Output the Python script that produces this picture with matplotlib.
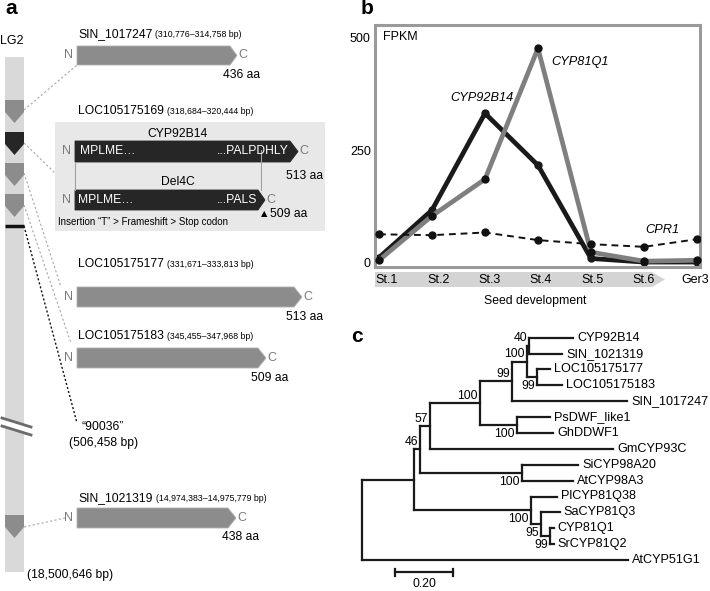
import numpy as np
import matplotlib
matplotlib.use('Agg')
import matplotlib.pyplot as plt
from matplotlib.patches import Polygon, Rectangle

plt.rcParams['font.family'] = ['Liberation Sans', 'DejaVu Sans']

###############################################################################
###------------------------------ Data -----------------------------------###
###############################################################################

# panel a - genes on LG2
gene_names = ['SIN_1017247', 'LOC105175169', 'LOC105175177', 'LOC105175183', 'SIN_1021319']
gene_coords = ['(310,776–314,758 bp)', '(318,684–320,444 bp)', '(331,671–333,813 bp)',
               '(345,455–347,968 bp)', '(14,974,383–14,975,779 bp)']
gene_aa = ['436 aa', '513 aa', '513 aa', '509 aa', '438 aa']
del4c_aa = '509 aa'
marker_name = '“90036”'
marker_pos = '(506,458 bp)'
chrom_name = 'LG2'
chrom_end = '(18,500,646 bp)'

# panel b - expression
stages = ['St.1', 'St.2', 'St.3', 'St.4', 'St.5', 'St.6', 'Ger3']
cyp92b14 = [10, 116, 332, 216, 8, 0, 0]
cyp81q1 = [4, 103, 185, 477, 22, 2, 4]
cpr1 = [62, 60, 66, 49, 40, 34, 51]

# panel c - tree: (bootstrap, branch length, children) or (leaf, branch length)
tree = ('', 0.0, [
    ('', 0.178, [
        ('46', 0.021, [
            ('57', 0.034, [
                ('100', 0.172, [
                    ('99', 0.110, [
                        ('100', 0.051, [
                            ('40', 0.007, [('CYP92B14', 0.151), ('SIN_1021319', 0.113)]),
                            ('99', 0.034, [('LOC105175177', 0.045), ('LOC105175183', 0.086)]),
                        ]),
                        ('SIN_1017247', 0.394),
                    ]),
                    ('100', 0.127, [('PsDWF_like1', 0.113), ('GhDDWF1', 0.123)]),
                ]),
                ('GmCYP93C', 0.628),
            ]),
            ('100', 0.350, [('SiCYP98A20', 0.192), ('AtCYP98A3', 0.175)]),
        ]),
        ('100', 0.401, [
            ('PlCYP81Q38', 0.089),
            ('95', 0.034, [('SaCYP81Q3', 0.065),
                           ('99', 0.031, [('CYP81Q1', 0.014), ('SrCYP81Q2', 0.014)])]),
        ]),
    ]),
    ('AtCYP51G1', 0.913),
])
scale_len = 0.20

###############################################################################
###------------------------------ Figure ---------------------------------###
###############################################################################
fig = plt.figure(figsize=(7.1, 5.91), dpi=100)
ax = fig.add_axes([0, 0, 1, 1])
ax.set_xlim(0, 710)
ax.set_ylim(591, 0)
ax.axis('off')

GRAY = '#8c8c8c'
DARK = '#262626'
NC = '#7a7a7a'

for lab, x, y in [('a', 5, 9), ('b', 361, 9), ('c', 351, 337)]:
    ax.text(x, y, lab, fontsize=15, fontweight='bold', va='center', ha='left')

############## PANEL A ##############
ax.text(12, 41, chrom_name, fontsize=9, ha='center', va='center')
ax.add_patch(Rectangle((5, 57), 19, 515, fc='#d9d9d9', ec='none'))

# chromosome break
ax.add_patch(Polygon([(2, 418), (31, 427), (31, 435), (2, 426)], fc='white', ec='none'))
ax.plot([2, 31], [418, 427], color='#6b6b6b', lw=2)
ax.plot([2, 31], [426, 435], color='#6b6b6b', lw=2)

# markers on chromosome
marker_tops = [100, 132, 163, 194, 515]
marker_cols = [GRAY, DARK, GRAY, GRAY, GRAY]
for top, col in zip(marker_tops, marker_cols):
    ax.add_patch(Polygon([(5, top), (24, top), (24, top + 12), (14.5, top + 23), (5, top + 12)],
                         fc=col, ec='none'))
ax.plot([5, 24], [226, 226], color='#111111', lw=2.5, solid_capstyle='butt')

# connecting lines
links = [((24, 110), (77, 65)), ((24, 143), (55, 173)), ((24, 173), (61, 287)),
         ((24, 205), (71, 343)), ((24, 527), (65, 518))]
for (x0, y0), (x1, y1) in links:
    ax.plot([x0, x1], [y0, y1], color='#a8a8a8', lw=0.8, ls=(0, (2, 2)))
ax.plot([24, 77], [226, 423], color='#111111', lw=1.0, ls=(0, (1.5, 1.5)))


def title(x, yb, name, coords):
    t = ax.text(x, yb, name, fontsize=8.7, va='baseline', ha='left')
    r = fig.canvas.get_renderer()
    w = t.get_window_extent(r).width
    ax.text(x + w + 3, yb, coords, fontsize=6.3, va='baseline', ha='left')


def gene_arrow(x0, xr, xt, y0, y1, col):
    ym = (y0 + y1) / 2
    ax.add_patch(Polygon([(x0, y0), (xr, y0), (xt, ym), (xr, y1), (x0, y1)],
                         fc=col, ec='#b0b0b0' if col == GRAY else col, lw=0.6))
    ax.text(x0 - 4, ym, 'N', fontsize=9, color=NC, ha='right', va='center')
    ax.text(xt + 1, ym, 'C', fontsize=9, color=NC, ha='left', va='center')


# plain genes
simple = [0, 2, 3, 4]
title_base = [37, 114, 267, 339, 501]
arrow_geo = {0: (77, 230, 237, 46, 65), 2: (77, 294, 302, 287, 307),
             3: (77, 258, 266, 348, 368), 4: (77, 228, 236, 508, 528)}
aa_pos = {0: (242, 75), 2: (305, 317), 3: (270, 378), 4: (241, 537)}
for i in simple:
    title(78, title_base[i], gene_names[i], gene_coords[i])
    gene_arrow(*arrow_geo[i], GRAY)
    ax.text(aa_pos[i][0], aa_pos[i][1], gene_aa[i], fontsize=8.7, ha='center', va='center')

# boxed gene LOC105175169
title(78, title_base[1], gene_names[1], gene_coords[1])
ax.add_patch(Rectangle((55, 122), 270, 109, fc='#e8e8e8', ec='none'))
ax.plot([75, 75], [162, 190], color='#a0a0a0', lw=0.8)
ax.plot([261, 261], [150, 190], color='#a0a0a0', lw=0.8)
ax.text(177, 134, 'CYP92B14', fontsize=8.7, ha='center', va='center')
gene_arrow(75, 290, 298, 141, 162, DARK)
ax.text(80, 151.5, 'MPLME…', fontsize=8.7, color='white', ha='left', va='center')
ax.text(289, 151.5, '...PALPDHLY', fontsize=8.7, color='white', ha='right', va='center')
ax.text(305, 176, gene_aa[1], fontsize=8.7, ha='center', va='center')
ax.text(178, 182, 'Del4C', fontsize=8.7, ha='center', va='center')
gene_arrow(75, 258, 265, 190, 210, DARK)
ax.text(78, 200, 'MPLME…', fontsize=8.7, color='white', ha='left', va='center')
ax.text(257, 200, '...PALS', fontsize=8.7, color='white', ha='right', va='center')
ax.text(264, 214, '▲', fontsize=6, ha='center', va='center', family='DejaVu Sans')
ax.text(270, 214, del4c_aa, fontsize=8.7, ha='left', va='center')
ax.text(58, 222, 'Insertion “T” > Frameshift > Stop codon', fontsize=7, ha='left', va='center')

ax.text(82, 427, marker_name, fontsize=8.7, ha='left', va='center')
ax.text(69, 443, marker_pos, fontsize=8.7, ha='left', va='center')
ax.text(27, 575, chrom_end, fontsize=8.7, ha='left', va='center')

############## PANEL B ##############
axb = fig.add_axes([375 / 710, 1 - 267 / 591, 325 / 710, 242 / 591])
axb.patch.set_visible(False)
x = np.arange(len(stages))
axb.plot(x, cyp92b14, color='#1a1a1a', lw=3.4, marker='o', ms=5, zorder=2, clip_on=False)
axb.plot(x, cyp81q1, color='#7f7f7f', lw=3.4, marker='o', ms=5, mfc='#111111', mec='#111111',
         zorder=3, clip_on=False)
axb.plot(x, cpr1, color='#111111', lw=1.4, ls=(0, (3.5, 2.5)), marker='o', ms=5, zorder=4)
axb.set_xlim(-0.075, 6.057)
axb.set_ylim(-11, 529)
axb.set_xticks([])
axb.set_yticks([0, 250, 500])
axb.tick_params(axis='y', length=0, pad=3, labelsize=9)
for s in axb.spines.values():
    s.set_color('#9a9a9a')
    s.set_linewidth(2.2)
axb.text(1.94, 366, 'CYP92B14', fontsize=9.2, style='italic', ha='center', va='center')
axb.text(3.79, 446, 'CYP81Q1', fontsize=9.2, style='italic', ha='center', va='center')
axb.text(5.34, 71, 'CPR1', fontsize=9.2, style='italic', ha='center', va='center')
ax.text(383, 37, 'FPKM', fontsize=9, ha='left', va='center')

# stage arrow below the plot
ax.add_patch(Polygon([(375, 272), (652, 272), (665, 279.5), (652, 287), (375, 287)],
                     fc='#d4d4d4', ec='none'))
for lx, st in zip(np.linspace(387, 695, len(stages)), stages):
    ax.text(lx, 280, st, fontsize=9, ha='center', va='center')
ax.text(535, 301, 'Seed development', fontsize=8.8, ha='center', va='center')

############## PANEL C ##############
root_x = 362
px_per_unit = 291.5
leaf_y0, leaf_dy = 337.7, 15.88
leaf_count = [0]


def draw_node(node, parent_x, first):
    if len(node) == 2:
        name, bl = node
        xn = parent_x + bl * px_per_unit
        yn = leaf_y0 + leaf_dy * leaf_count[0]
        leaf_count[0] += 1
        ax.text(xn + 4, yn, name, fontsize=9.1, ha='left', va='center')
    else:
        lab, bl, kids = node
        xn = parent_x + bl * px_per_unit
        ys = [draw_node(k, xn, j == 0) for j, k in enumerate(kids)]
        yn = (min(ys) + max(ys)) / 2
        ax.plot([xn, xn], [min(ys), max(ys)], color='#1a1a1a', lw=1.6, solid_capstyle='projecting')
        if lab:
            if first:
                ax.text(xn - 2, yn - 1.5, lab, fontsize=8.8, ha='right', va='bottom')
            else:
                ax.text(xn - 2, yn + 3, lab, fontsize=8.8, ha='right', va='top')
    if bl > 0:
        ax.plot([parent_x, xn], [yn, yn], color='#1a1a1a', lw=1.6, solid_capstyle='projecting')
    return yn


draw_node(tree, root_x, True)

# scale bar
sb_x0 = 395
sb_x1 = sb_x0 + scale_len * px_per_unit
ax.plot([sb_x0, sb_x1], [572, 572], color='#1a1a1a', lw=1.6)
ax.plot([sb_x0, sb_x0], [568.5, 575.5], color='#1a1a1a', lw=1.6)
ax.plot([sb_x1, sb_x1], [568.5, 575.5], color='#1a1a1a', lw=1.6)
ax.text((sb_x0 + sb_x1) / 2, 584, f'{scale_len:.2f}', fontsize=8.8, ha='center', va='center')

fig.savefig('out.png', dpi=100)
